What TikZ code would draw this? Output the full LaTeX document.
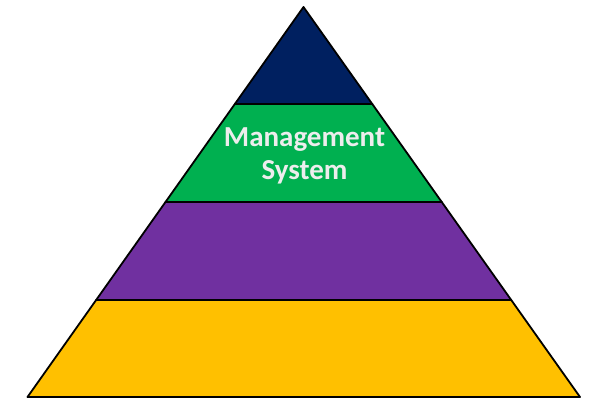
\documentclass[tikz,border=0pt]{standalone}
\usepackage{fontspec}
\setmainfont{Carlito}
\usetikzlibrary{calc}
\definecolor{navy}{HTML}{002060}
\definecolor{grn}{HTML}{00B050}
\definecolor{purp}{HTML}{7030A0}
\definecolor{yel}{HTML}{FFC000}
\definecolor{txt}{HTML}{EDEDED}
\tikzset{band/.style={draw=black,line width=1.8pt,line join=round}}
\begin{document}
\begin{tikzpicture}[x=1pt,y=-1pt]
\useasboundingbox (0,0) rectangle (595,399);
\coordinate (A) at (303.5,7);
\coordinate (L) at (27.5,397);
\coordinate (R) at (580,397);
\coordinate (L1) at ($(A)!0.2487!(L)$);
\coordinate (R1) at ($(A)!0.2487!(R)$);
\coordinate (L2) at ($(A)!0.5!(L)$);
\coordinate (R2) at ($(A)!0.5!(R)$);
\coordinate (L3) at ($(A)!0.7513!(L)$);
\coordinate (R3) at ($(A)!0.7513!(R)$);
\filldraw[band,fill=yel] (L3) -- (R3) -- (R) -- (L) -- cycle;
\filldraw[band,fill=purp] (L2) -- (R2) -- (R3) -- (L3) -- cycle;
\filldraw[band,fill=grn] (L1) -- (R1) -- (R2) -- (L2) -- cycle;
\filldraw[band,fill=navy] (A) -- (R1) -- (L1) -- cycle;
\node[text=txt,font=\fontsize{29}{33}\selectfont\bfseries,align=center] (lbl) at (304.5,156) {Management\\System};
\end{tikzpicture}
\end{document}
